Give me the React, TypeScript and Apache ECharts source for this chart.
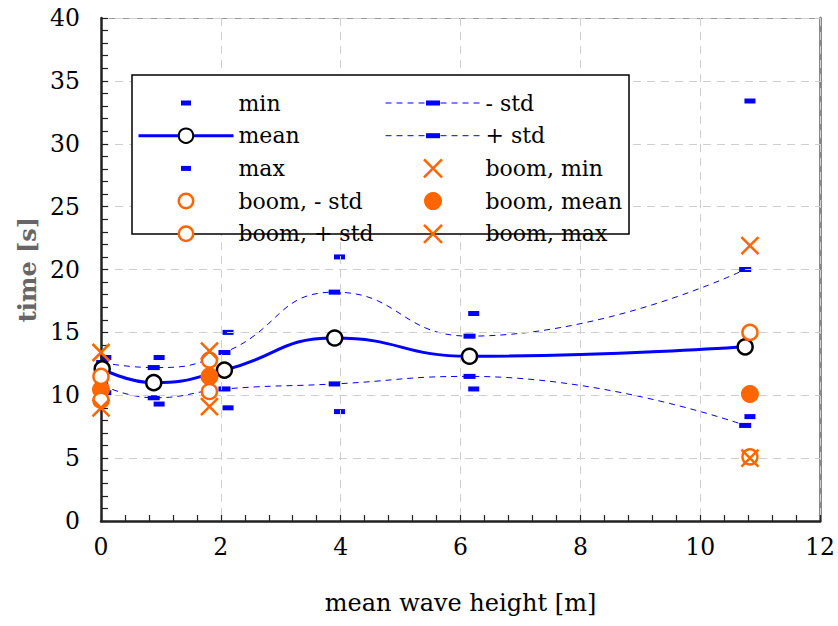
import React, { useEffect, useRef } from "react";
import * as echarts from "echarts";

// ---- data ----
const xMean = [0.02, 0.88, 2.06, 3.9, 6.15, 10.75];
const meanValues = [12.1, 11.0, 12.0, 14.55, 13.1, 13.85];
const plusStdValues = [12.6, 12.2, 13.4, 18.2, 14.7, 20.0];
const minusStdValues = [10.8, 9.8, 10.5, 10.9, 11.5, 7.6];
const xMinMax = [0.08, 0.97, 2.12, 3.98, 6.22, 10.83];
const maxValues = [13.0, 13.0, 15.0, 21.0, 16.5, 33.4];
const minValues = [10.2, 9.3, 9.0, 8.7, 10.5, 8.3];
const xBoom = [0.0, 1.81, 10.83];
const boomMin = [9.0, 9.1, 5.0];
const boomMinusStd = [9.6, 10.3, 5.1];
const boomMean = [10.45, 11.5, 10.1];
const boomPlusStd = [11.5, 12.8, 15.0];
const boomMax = [13.4, 13.5, 21.9];

const legendCol1 = ["min", "mean", "max", "boom, - std", "boom, + std"];
const legendCol2 = ["- std", "+ std", "boom, min", "boom, mean", "boom, max"];

const BLUE = "#0000ff";
const ORANGE = "#ff6600";
const FONT = "DejaVu Serif";

const pairs = (xs: number[], ys: number[]) => xs.map((x, i) => [x, ys[i]]);

const dashSymbol = "path://M0,0h10v5h-10z";
const dashLegendIcon = "path://M0,0M18,18M4,6.5h10v5h-10z";
const stdSymbol = "path://M0,0M16,16M0.25,5.2h15.5v5.6h-15.5z";
const crossSymbol = "path://M0,0L12,12M12,0L0,12";
const hollowLegendIcon = "path://M0,0M18,18M1.75,9a7.25,7.25 0 1,0 14.5,0a7.25,7.25 0 1,0 -14.5,0z";

export default function App() {
  const ref = useRef<HTMLDivElement>(null);
  useEffect(() => {
    if (!ref.current) return;
    const chart = echarts.init(ref.current, null, { renderer: "svg" });

    const dashSeries = (name: string, xs: number[], ys: number[]) => ({
      name,
      type: "scatter",
      data: pairs(xs, ys),
      symbol: dashSymbol,
      symbolSize: [11, 5],
      itemStyle: { color: BLUE, opacity: 1 },
      clip: false,
      silent: true,
      z: 2,
    });
    const stdSeries = (name: string, ys: number[]) => ({
      name,
      type: "line",
      data: pairs(xMean, ys),
      smooth: 0.5,
      symbol: stdSymbol,
      symbolSize: [12.4, 14.4],
      showSymbol: true,
      itemStyle: { color: BLUE, borderWidth: 0, opacity: 1 },
      lineStyle: { color: BLUE, width: 1, type: [6, 5] },
      clip: false,
      silent: true,
      z: 2,
    });
    const crossSeries = (name: string, ys: number[]) => ({
      name,
      type: "scatter",
      data: pairs(xBoom, ys),
      symbol: crossSymbol,
      symbolSize: 17,
      itemStyle: { color: ORANGE, borderColor: ORANGE, borderWidth: 2.5, opacity: 1 },
      clip: false,
      silent: true,
      z: 5,
    });
    const hollowSeries = (name: string, ys: number[]) => ({
      name,
      type: "scatter",
      data: pairs(xBoom, ys),
      symbol: "circle",
      symbolSize: 15,
      itemStyle: { color: "#fff", borderColor: ORANGE, borderWidth: 2.5, opacity: 1 },
      clip: false,
      silent: true,
      z: 5,
    });

    const legendItem = (name: string) => {
      switch (name) {
        case "min":
        case "max":
          return { name, icon: dashLegendIcon, itemStyle: { color: BLUE, borderWidth: 0, opacity: 1 } };
        case "mean":
          return {
            name,
            itemStyle: { color: "#fff", borderColor: "#000", borderWidth: 2, opacity: 1 },
            lineStyle: { color: BLUE, width: 3, type: "solid", opacity: 1 },
          };
        case "- std":
        case "+ std":
          return {
            name,
            itemStyle: { color: BLUE, borderWidth: 0, opacity: 1 },
            lineStyle: { color: BLUE, width: 1, type: [6, 5], opacity: 1 },
          };
        case "boom, - std":
        case "boom, + std":
          return { name, icon: hollowLegendIcon, itemStyle: { color: "#fff", borderColor: ORANGE, borderWidth: 2.5, opacity: 1 } };
        case "boom, mean":
          return { name, icon: "circle", itemStyle: { color: ORANGE, borderWidth: 0, opacity: 1 } };
        default:
          return { name, icon: crossSymbol, itemStyle: { color: ORANGE, borderColor: ORANGE, borderWidth: 2.5, opacity: 1 } };
      }
    };

    const legendBase = {
      orient: "vertical",
      itemWidth: 95,
      itemHeight: 18,
      itemGap: 10.7,
      padding: 0,
      selectedMode: false,
      textStyle: { fontFamily: FONT, fontSize: 22, color: "#000" },
      z: 10,
    };

    const axisLineStyle = { color: "#222", width: 2.5 };
    const tickStyle = { color: "#222", width: 1.2 };

    const option: any = {
      animation: false,
      backgroundColor: "#fff",
      textStyle: { fontFamily: FONT },
      grid: { left: 101, right: 16, top: 18, bottom: 105 },
      graphic: [
        {
          type: "rect",
          shape: { x: 132, y: 75, width: 497, height: 159 },
          style: { fill: "#fff", stroke: "#000", lineWidth: 1.5 },
          z: 8,
          silent: true,
        },
      ],
      legend: [
        { ...legendBase, left: 137, top: 92, data: legendCol1.map(legendItem) },
        { ...legendBase, left: 385, top: 92, data: legendCol2.map(legendItem) },
      ],
      xAxis: [
        {
          type: "value",
          min: 0,
          max: 12,
          interval: 2,
          name: "mean wave height [m]",
          nameLocation: "middle",
          nameGap: 70,
          nameTextStyle: { fontFamily: FONT, fontSize: 24, color: "#000" },
          axisLine: { show: true, onZero: false, lineStyle: axisLineStyle },
          axisTick: { show: true, inside: true, length: 6, lineStyle: tickStyle },
          minorTick: { show: true, splitNumber: 5, length: 6, lineStyle: tickStyle },
          axisLabel: { fontFamily: FONT, fontSize: 23.5, color: "#000", margin: 14 },
          splitLine: { show: true, lineStyle: { color: "#cfcfcf", width: 1, type: [8, 6] } },
          z: 3,
        },
        {
          type: "value",
          position: "top",
          min: 0,
          max: 12,
          interval: 2,
          axisLine: { show: true, onZero: false, lineStyle: { color: "#999", width: 1 } },
          axisTick: { show: false },
          axisLabel: { show: false },
          splitLine: { show: false },
        },
      ],
      yAxis: [
        {
          type: "value",
          min: 0,
          max: 40,
          interval: 5,
          name: "time [s]",
          nameLocation: "middle",
          nameGap: 60,
          nameTextStyle: { fontFamily: FONT, fontSize: 24, color: "#666", fontWeight: "bold" },
          axisLine: { show: true, onZero: false, lineStyle: axisLineStyle },
          axisTick: { show: true, inside: true, length: 7, lineStyle: tickStyle },
          minorTick: { show: true, splitNumber: 5, length: 7, lineStyle: tickStyle },
          axisLabel: { fontFamily: FONT, fontSize: 23.5, color: "#000", margin: 21 },
          splitLine: { show: true, lineStyle: { color: "#cfcfcf", width: 1, type: [8, 6] } },
          z: 3,
        },
        {
          type: "value",
          position: "right",
          min: 0,
          max: 40,
          interval: 5,
          axisLine: { show: true, onZero: false, lineStyle: { color: "#888", width: 3 } },
          axisTick: { show: false },
          axisLabel: { show: false },
          splitLine: { show: false },
        },
      ],
      series: [
        dashSeries("min", xMinMax, minValues),
        dashSeries("max", xMinMax, maxValues),
        stdSeries("- std", minusStdValues),
        stdSeries("+ std", plusStdValues),
        {
          name: "mean",
          type: "line",
          data: pairs(xMean, meanValues),
          smooth: 0.5,
          symbol: "circle",
          symbolSize: 15,
          showSymbol: true,
          itemStyle: { color: "#fff", borderColor: "#000", borderWidth: 2.5, opacity: 1 },
          lineStyle: { color: BLUE, width: 3 },
          clip: false,
          silent: true,
          z: 3,
        },
        {
          name: "boom, mean",
          type: "scatter",
          data: pairs(xBoom, boomMean),
          symbol: "circle",
          symbolSize: 18,
          itemStyle: { color: ORANGE, opacity: 1 },
          clip: false,
          silent: true,
          z: 4,
        },
        hollowSeries("boom, - std", boomMinusStd),
        hollowSeries("boom, + std", boomPlusStd),
        crossSeries("boom, min", boomMin),
        crossSeries("boom, max", boomMax),
      ],
    };
    chart.setOption(option);
    return () => chart.dispose();
  }, []);
  return <div ref={ref} style={{ width: 838, height: 626, position: "absolute", left: 0, top: 0 }} />;
}
